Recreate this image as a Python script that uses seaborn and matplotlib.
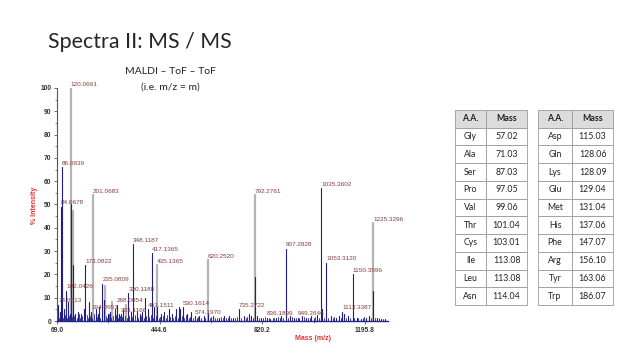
import numpy as np
import pandas as pd
import matplotlib
matplotlib.use("Agg")
import matplotlib.pyplot as plt
import seaborn as sns

# ---------------- data ----------------
# labelled peaks: mass, label height (% intensity)
label_mass = [74.0613, 84.0678, 86.0839, 102.0426, 120.0661, 173.0822, 194.0951,
              201.0683, 235.0809, 288.0954, 303.1168, 330.1188, 348.1187, 401.1511,
              417.1365, 435.1365, 530.1614, 574.1970, 620.2520, 735.2722, 792.2761,
              836.1899, 907.2828, 949.2646, 1035.3602, 1053.3120, 1113.3387,
              1150.3596, 1225.3296]
label_height = [7, 49, 66, 13, 100, 24, 4, 54, 16, 7, 3, 12, 33, 5, 29, 24, 6, 2,
                26, 5, 54, 1.5, 31, 1.5, 57, 25, 4, 20, 42]

# gray (centroid) peaks
gray_mass = [120.07, 128.0, 201.07, 244.0, 271.0, 320.0, 435.14, 620.25, 792.28, 1225.33]
gray_height = [100, 47, 54, 15, 8, 7, 24, 26, 54, 42]

# blue (profile) peaks
blue_mass = [72, 74.06, 79, 84.07, 86.08, 95, 102.04, 110, 115, 120.07, 129, 136,
             147, 158, 166, 173.08, 185, 194.1, 210, 218, 224, 235.08, 240, 255, 262,
             280, 288.1, 295, 303.1, 312, 330.1, 340, 348.1, 360, 372, 380, 392,
             401.15, 417.14, 425, 435.14, 450, 462, 478, 490, 505, 514, 520, 530.16,
             545, 560, 574.2, 590, 605, 620.25, 640, 660, 680, 700, 712, 735.27, 752,
             770, 780, 792.28, 800, 815, 836.19, 850, 870, 890, 907.28, 920, 935,
             949.26, 965, 980, 1000, 1020, 1035.36, 1040, 1053.31, 1070, 1090, 1100,
             1113.34, 1120, 1135, 1150.36, 1165, 1180, 1200, 1210, 1225.33, 1240,
             1255, 1270]
blue_height = [3, 7, 4, 49, 66, 5, 13, 8, 3, 50, 24, 3,
               4, 3, 5, 24, 8, 4, 5, 3, 6, 16, 9, 3, 4,
               5, 7, 3, 3, 5, 12, 4, 33, 4, 3, 4, 10,
               5, 29, 6, 6, 3, 4, 5, 3, 5, 6, 5, 6,
               3, 4, 2, 2, 2, 3, 2, 1.5, 2, 2, 1.5, 5, 2,
               3, 2, 19, 2, 1.5, 1.5, 1, 1.5, 2, 31, 2, 1.5,
               1.5, 2, 1.5, 2, 2.5, 57, 5, 25, 2, 1.5, 2,
               4, 3, 2, 20, 1.5, 1, 1.5, 2, 13, 1.5,
               1, 0.8]

# low-level baseline noise peaks
noise_mass = [76, 81, 90, 98, 106, 113, 124, 133, 141, 151, 154, 162, 170, 178, 181,
              189, 198, 205, 214, 221, 228, 232, 247, 251, 259, 266, 274, 284, 291,
              299, 307, 316, 324, 334, 344, 353, 365, 376, 386, 396, 407, 412, 421,
              430, 441, 446, 455, 468, 473, 483, 495, 500, 510, 525, 535, 540, 551,
              556, 566, 580, 585, 597, 612, 628, 634, 648, 654, 668, 675, 688, 694,
              706, 720, 727, 742, 760, 765, 786, 808, 822, 830, 843, 858, 864, 878,
              884, 897, 913, 928, 942, 956, 972, 988, 994, 1008, 1014, 1028, 1046,
              1062, 1078, 1084, 1107, 1127, 1142, 1157, 1172, 1188, 1194, 1218, 1232,
              1247, 1262]
noise_height = [1.5, 2, 1.2, 2.5, 1.5, 2, 1.8, 2.2, 1.5, 2.8, 1.2, 2, 1.5, 2.5, 1.2,
                2, 1.5, 3, 1.8, 2.2, 1.5, 2.5, 2, 1.5, 2.8, 1.5, 2, 2.5, 1.5,
                2, 1.8, 2.2, 1.5, 2, 1.8, 2.5, 1.5, 2, 1.5, 2.2, 1.8, 2.5, 1.5,
                2, 1.5, 1.8, 2.2, 1.5, 2.5, 1.8, 1.5, 2.2, 1.5, 2, 1.5, 2.5, 1.2,
                1.8, 1.5, 1.2, 1.8, 1.5, 1.2, 1.5, 1.8, 1.2, 1.5, 1.8, 1.2, 1.5, 1.2,
                1.5, 1.2, 1.8, 1.2, 1.5, 1.8, 1.2, 1.5, 1.2, 1.8, 1.2, 1.5, 1.2, 1.8,
                1.2, 1.5, 1.2, 1.8, 1.5, 1.2, 1.8, 1.2, 1.5, 1.2, 1.8, 1.5, 1.2,
                1.5, 1.2, 1.8, 1.5, 1.2, 1.5, 1.2, 1.5, 1.2, 1.8, 1.2, 1.5,
                1.2, 1.0]

x_ticks = [69.0, 444.6, 820.2, 1195.8]
y_ticks = [0, 10, 20, 30, 40, 50, 60, 70, 80, 90, 100]

aa_left = ["Gly", "Ala", "Ser", "Pro", "Val", "Thr", "Cys", "Ile", "Leu", "Asn"]
mass_left = ["57.02", "71.03", "87.03", "97.05", "99.06", "101.04", "103.01",
             "113.08", "113.08", "114.04"]
aa_right = ["Asp", "Gln", "Lys", "Glu", "Met", "His", "Phe", "Arg", "Tyr", "Trp"]
mass_right = ["115.03", "128.06", "128.09", "129.04", "131.04", "137.06", "147.07",
              "156.10", "163.06", "186.07"]


def sticks(masses, heights):
    rows = []
    for i, (m, h) in enumerate(zip(masses, heights)):
        rows.append((i, m, 0.0))
        rows.append((i, m, h))
    return pd.DataFrame(rows, columns=["unit", "mass", "intensity"])


# ---------------- figure ----------------
sns.set_theme(style="white")
plt.rcParams["font.family"] = ["Liberation Sans", "DejaVu Sans"]

fig = plt.figure(figsize=(6.4, 3.6), dpi=100)
fig.patch.set_facecolor("white")

ax = fig.add_axes([57 / 640, 1 - 321 / 360, (388 - 57) / 640, (321 - 88) / 360])
ax.set_facecolor("white")

gray_df = sticks(gray_mass, gray_height)
blue_df = sticks(blue_mass, blue_height)
noise_df = sticks(noise_mass, noise_height)

sns.lineplot(data=gray_df, x="mass", y="intensity", units="unit", estimator=None,
             sort=False, color="#b4b4b4", linewidth=1.6, ax=ax, legend=False)
sns.lineplot(data=noise_df, x="mass", y="intensity", units="unit", estimator=None,
             sort=False, color="#23238c", linewidth=0.6, ax=ax, legend=False)
sns.lineplot(data=blue_df, x="mass", y="intensity", units="unit", estimator=None,
             sort=False, color="#1e1e85", linewidth=0.8, ax=ax, legend=False)

label_color = "#8a3b3b"
for m, h in zip(label_mass, label_height):
    ax.text(m, h + 0.6, f"{m:.4f}", fontsize=4.6, color=label_color,
            ha="left", va="bottom", clip_on=False)

ax.set_xlim(69, 1280)
ax.set_ylim(0, 100)
ax.set_xticks(x_ticks)
ax.set_xticklabels([f"{v:.1f}" for v in x_ticks])
ax.set_xticks([(a + b) / 2 for a, b in zip(x_ticks[:-1], x_ticks[1:])], minor=True)
ax.set_yticks(y_ticks)
ax.set_yticklabels([str(v) for v in y_ticks])
ax.set_yticks(np.arange(5, 100, 10), minor=True)

for s in ["top", "right"]:
    ax.spines[s].set_visible(False)
ax.spines["left"].set_color("#555555")
ax.spines["left"].set_linewidth(0.8)
ax.spines["bottom"].set_color("#23238c")
ax.spines["bottom"].set_linewidth(1.0)

ax.tick_params(axis="both", which="major", length=2.5, width=0.6, color="#555555",
               labelsize=4.8, pad=1.5, labelcolor="#333333", left=True, bottom=True)
ax.tick_params(axis="both", which="minor", length=1.5, width=0.5, color="#555555",
               left=True, bottom=True)
for lab in ax.get_xticklabels() + ax.get_yticklabels():
    lab.set_fontweight("bold")

ax.set_xlabel("")
ax.set_ylabel("")
fig.text(313 / 640, 1 - 338 / 360, "Mass (m/z)", color="#e03030", fontsize=5,
         fontweight="bold", ha="center", va="center")
fig.text(35 / 640, 1 - 205 / 360, "% Intensity", color="#e03030", fontsize=5,
         fontweight="bold", ha="center", va="center", rotation=90)

# title and annotation
fig.text(48 / 640, 1 - 48 / 360, "Spectra II: MS / MS", fontsize=15.4,
         family=["Lato", "DejaVu Sans"], fontweight="normal", color="#262626",
         ha="left", va="baseline")
fig.text(170 / 640, 1 - 72 / 360, "MALDI – ToF – ToF", fontsize=7.5,
         family=["Lato", "DejaVu Sans"], color="#222222", ha="center", va="center")
fig.text(170 / 640, 1 - 87 / 360, "(i.e. m/z = m)", fontsize=7.5,
         family=["Lato", "DejaVu Sans"], color="#222222", ha="center", va="center")

# amino-acid tables
tax = fig.add_axes([455 / 640, 1 - 305 / 360, (613 - 455) / 640, (305 - 110) / 360])
tax.axis("off")


def make_table(aa, mass, bbox, widths):
    cells = [[a, m] for a, m in zip(aa, mass)]
    tb = tax.table(cellText=cells, colLabels=["A.A.", "Mass"], bbox=bbox,
                   cellLoc="center", colWidths=widths)
    tb.auto_set_font_size(False)
    for (r, c), cell in tb.get_celld().items():
        cell.set_edgecolor("#9a9a9a")
        cell.set_linewidth(0.6)
        txt = cell.get_text()
        txt.set_fontsize(6.3)
        txt.set_family(["Lato", "DejaVu Sans"])
        txt.set_color("#222222")
        if r == 0:
            cell.set_facecolor("#dcdcdc")
            txt.set_fontweight("bold")
        else:
            cell.set_facecolor("white")
    return tb


make_table(aa_left, mass_left, [0, 0, 72 / 158, 1], [31 / 72, 41 / 72])
make_table(aa_right, mass_right, [83 / 158, 0, 75 / 158, 1], [34 / 75, 41 / 75])

fig.savefig("out.png", dpi=100, facecolor="white")
